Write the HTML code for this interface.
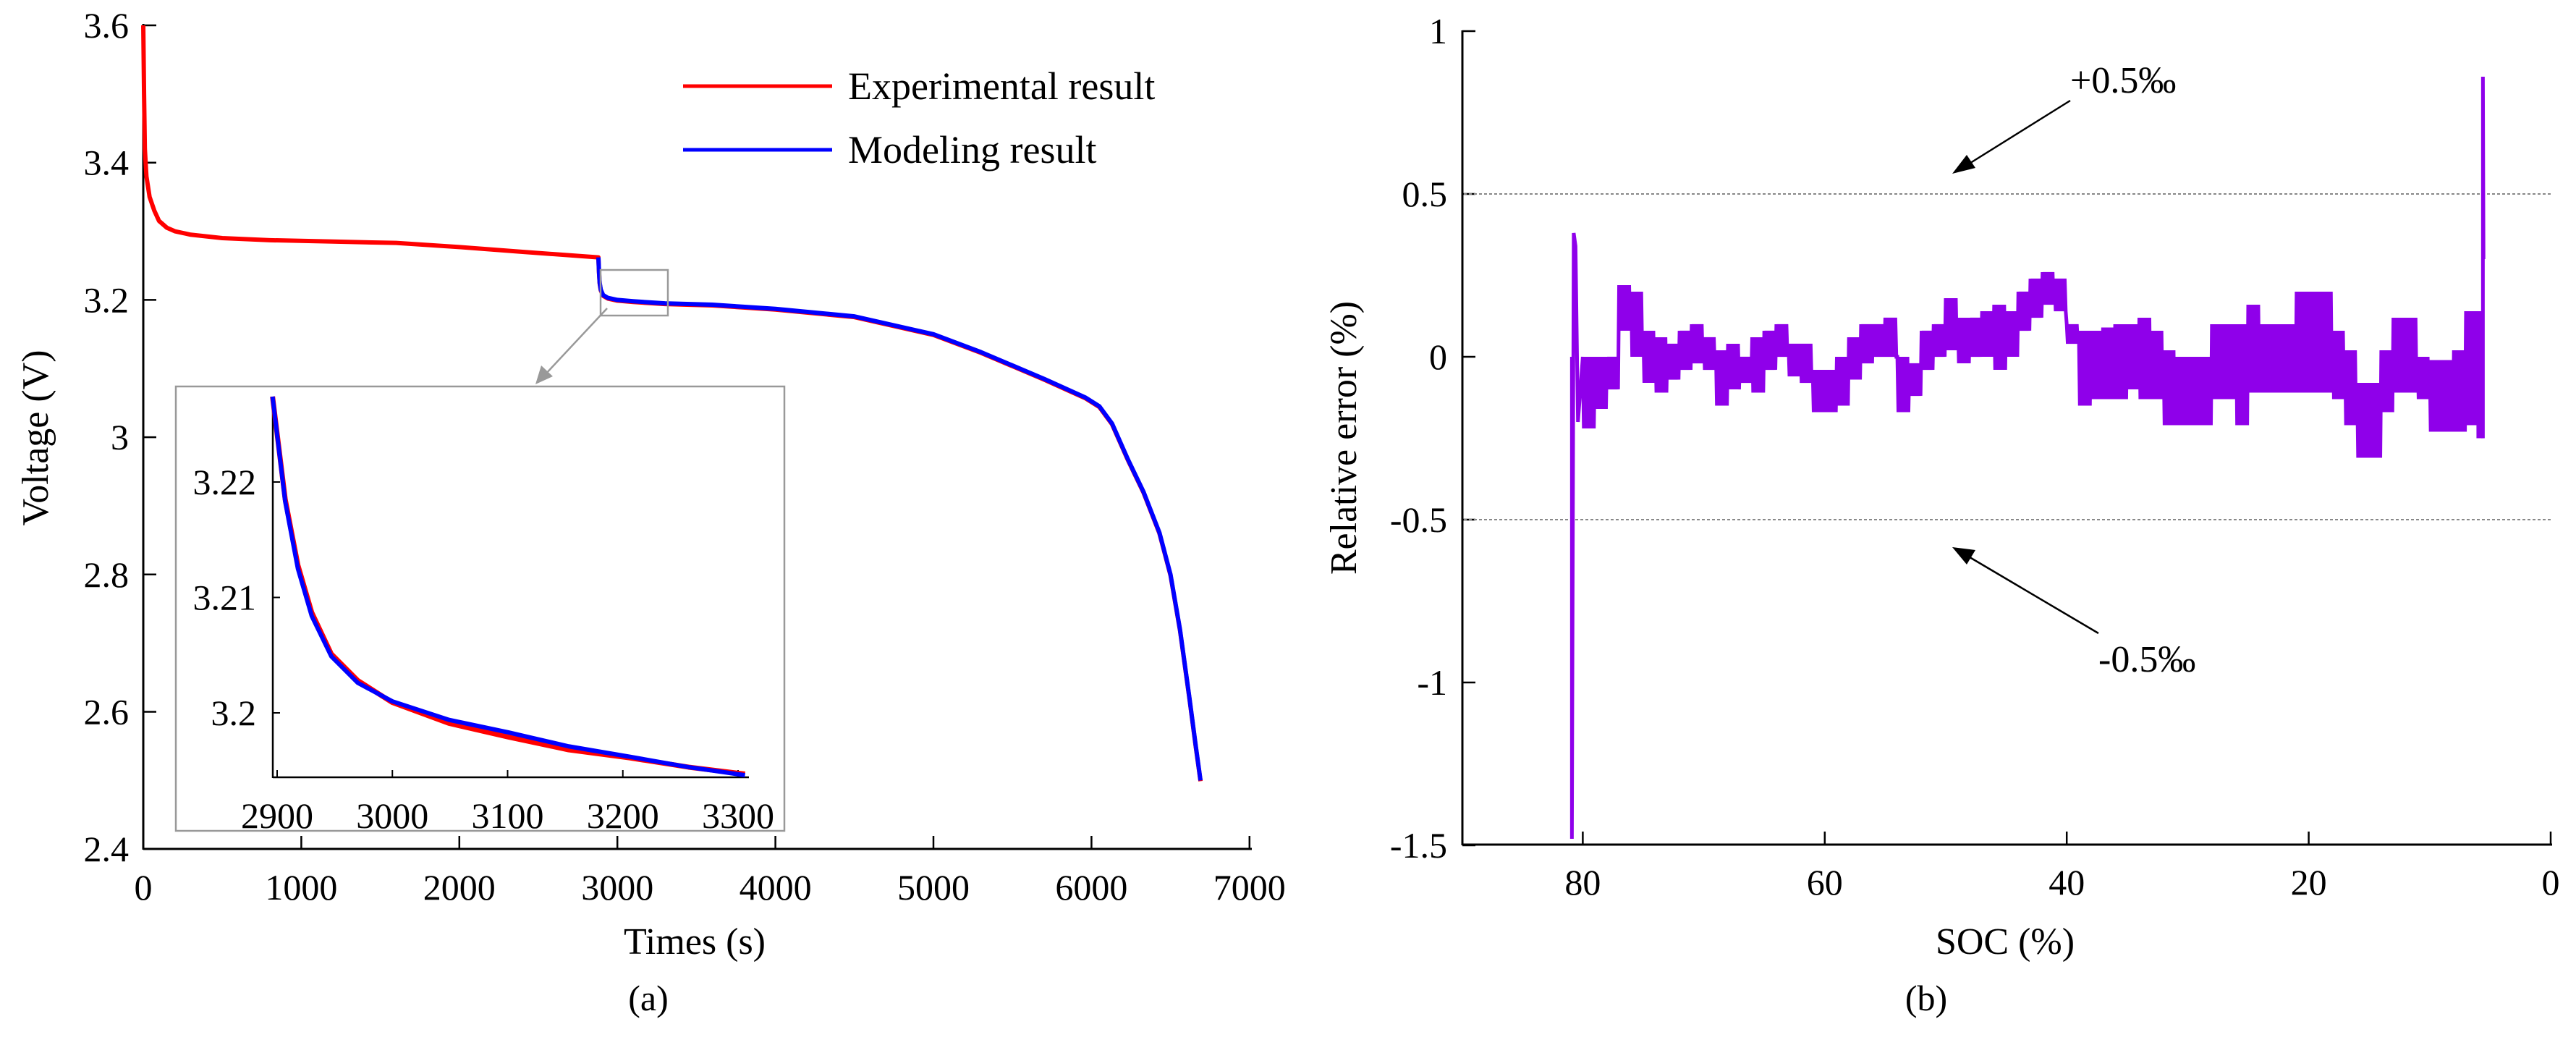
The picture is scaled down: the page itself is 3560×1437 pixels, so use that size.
<!DOCTYPE html>
<html><head><meta charset="utf-8">
<style>
html,body{margin:0;padding:0;background:#fff;}
svg{display:block;}
text{font-family:"Liberation Serif","DejaVu Serif",serif;}
</style></head>
<body>
<svg id="fig" width="3560" height="1437" viewBox="0 0 3560 1437" xmlns="http://www.w3.org/2000/svg">
<rect x="0" y="0" width="3560" height="1437" fill="#fff"/>
<g id="left"></g>
<g id="inset"></g>
<g id="right"></g>
</svg>
<script>
// ---- Chart (a) data ----
const expTimes = [0,5,10,20,40,70,100,150,200,300,500,800,1200,1600,2000,2400,2880];
const expVolts = [3.6,3.5,3.42,3.38,3.35,3.33,3.315,3.305,3.30,3.295,3.29,3.287,3.285,3.283,3.277,3.27,3.262];
const modelTimes = [2880,2884,2888,2895,2910,2940,3000,3100,3300,3600,4000,4500,5000,5300,5700,5960,6050,6130,6230,6330,6430,6500,6560,6620,6660,6690];
const modelVolts = [3.262,3.24,3.225,3.215,3.207,3.203,3.2,3.198,3.195,3.193,3.187,3.176,3.15,3.124,3.085,3.058,3.045,3.02,2.968,2.92,2.861,2.80,2.72,2.62,2.55,2.5];
const xTicksA = [0,1000,2000,3000,4000,5000,6000,7000];
const yTicksA = [2.4,2.6,2.8,3,3.2,3.4,3.6];
const yTickLabelsA = ["2.4","2.6","2.8","3","3.2","3.4","3.6"];
// inset data
const insetTimes = [2896,2907,2918,2930,2947,2970,3000,3049,3101,3153,3206,3257,3306];
const insetModel = [3.2274,3.2183,3.2125,3.2084,3.2049,3.2026,3.2010,3.1994,3.1983,3.1971,3.1962,3.1953,3.1946];
const insetExp = [3.2274,3.2185,3.2128,3.2087,3.2051,3.2028,3.2009,3.1991,3.1979,3.1968,3.1961,3.1953,3.1947];
const insetXTicks = [2900,3000,3100,3200,3300];
const insetYTicks = [3.2,3.21,3.22];
const insetYLabels = ["3.2","3.21","3.22"];
// ---- Chart (b) data ----
const socPts = [80,79,78,77,76,75,74,73,72,71,70,69,68,67,66,65,64,63,62,61,60,59,58,57,56,55,54,53,52,51,50,49,48,47,46,45,44,43,42,41,40,39,38,37,36,35,34,33,32,31,30,29,28,27,26,25,24,23,22,21,20,19,18,17,16,15,14,13,12,11,10,9,8,7,6];
const errHigh = [0.0,0.0,0.0,0.22,0.20,0.08,0.06,0.04,0.08,0.10,0.06,0.02,0.04,0.0,0.06,0.08,0.10,0.04,0.04,-0.04,-0.04,0.0,0.06,0.10,0.10,0.12,0.0,-0.02,0.08,0.10,0.18,0.12,0.12,0.14,0.16,0.14,0.20,0.24,0.26,0.24,0.10,0.08,0.08,0.09,0.10,0.10,0.12,0.08,0.02,0.0,0.0,0.0,0.10,0.10,0.10,0.16,0.10,0.10,0.10,0.20,0.20,0.20,0.08,0.02,-0.08,-0.08,0.02,0.12,0.12,0.0,-0.01,-0.01,0.02,0.14,0.14];
const errLow = [-0.22,-0.16,-0.10,0.08,0.0,-0.08,-0.11,-0.07,-0.04,-0.02,-0.04,-0.15,-0.10,-0.08,-0.11,-0.04,0.0,-0.06,-0.08,-0.17,-0.17,-0.15,-0.07,-0.02,0.0,0.0,-0.17,-0.12,-0.04,0.0,0.02,-0.02,0.0,0.0,-0.04,0.0,0.08,0.12,0.16,0.14,0.04,-0.15,-0.13,-0.13,-0.13,-0.10,-0.13,-0.13,-0.21,-0.21,-0.21,-0.21,-0.13,-0.13,-0.21,-0.11,-0.11,-0.11,-0.11,-0.11,-0.11,-0.11,-0.13,-0.21,-0.31,-0.31,-0.17,-0.11,-0.11,-0.13,-0.23,-0.23,-0.23,-0.21,-0.25];
const startSoc = [80.9,80.9,80.75,80.6,80.4,80.2];
const startErr = [0,-1.48,0.38,0.34,-0.2,-0.1];
const endSoc = [5.8,5.6,5.6,5.55];
const endErr = [-0.1,-0.25,0.86,0.3];
const xTicksB = [80,60,40,20,0];
const yTicksB = [-1.5,-1,-0.5,0,0.5,1];
const yTickLabelsB = ["-1.5","-1","-0.5","0","0.5","1"];

const NS = "http://www.w3.org/2000/svg";
function mk(parent, tag, attrs){ const e=document.createElementNS(NS,tag); for(const k in attrs) e.setAttribute(k,attrs[k]); parent.appendChild(e); return e; }
function txt(parent, s, attrs){ const e=mk(parent,'text',attrs); e.textContent=s; return e; }

// ===== Chart (a) =====
const L = document.getElementById('left');
const ax = t => 198 + t*0.2184;
const ay = v => 35 + (3.6 - v)*948.5;
let e;
e = mk(L,'line',{x1:198,y1:1173,x2:1730,y2:1173,stroke:'#000','stroke-width':3});
 
e = mk(L,'line',{x1:198,y1:33,x2:198,y2:1174,stroke:'#000','stroke-width':3});
 
xTicksA.forEach(t=>{
  e = mk(L,'line',{x1:ax(t),y1:1173,x2:ax(t),y2:1155,stroke:'#000','stroke-width':2.5});
   
  e = txt(L,String(t),{x:ax(t),y:1243,'font-size':50,'text-anchor':'middle'});
   
});
yTicksA.forEach((v,i)=>{
  e = mk(L,'line',{x1:198,y1:ay(v),x2:216,y2:ay(v),stroke:'#000','stroke-width':2.5});
   
  e = txt(L,yTickLabelsA[i],{x:178,y:ay(v)+17,'font-size':50,'text-anchor':'end'});
   
});
e = txt(L,'Times (s)',{x:960,y:1318,'font-size':52,'text-anchor':'middle'});
 
e = txt(L,'Voltage (V)',{x:0,y:0,'font-size':52,'text-anchor':'middle',transform:'translate(66,605) rotate(-90)'});
 
e = txt(L,'(a)',{x:896,y:1396,'font-size':50,'text-anchor':'middle'});
 

let pts = expTimes.map((t,i)=>ax(t)+','+ay(expVolts[i])).concat(modelTimes.map((t,i)=>ax(t)+','+(ay(modelVolts[i])+1)));
e = mk(L,'polyline',{points:pts.join(' '),fill:'none',stroke:'#ff0000','stroke-width':6,'stroke-linejoin':'round'});
 
e = mk(L,'polyline',{points:modelTimes.map((t,i)=>ax(t)+','+ay(modelVolts[i])).join(' '),fill:'none',stroke:'#0000ff','stroke-width':6,'stroke-linejoin':'round'});
 

// legend
e = mk(L,'line',{x1:944,y1:119,x2:1150,y2:119,stroke:'#ff0000','stroke-width':5});
 
e = txt(L,'Experimental result',{x:1172,y:137,'font-size':54});
 
e = mk(L,'line',{x1:944,y1:207,x2:1150,y2:207,stroke:'#0000ff','stroke-width':5});
 
e = txt(L,'Modeling result',{x:1172,y:225,'font-size':54});
 

// zoom rectangle & arrow
e = mk(L,'rect',{x:830,y:373,width:93,height:63,fill:'none',stroke:'#999','stroke-width':2.5});
 
e = mk(L,'line',{x1:839,y1:426,x2:752,y2:519,stroke:'#999','stroke-width':2.5});
 
e = mk(L,'polygon',{points:'740,531 748,505 764,520',fill:'#999'});
 

// ===== Inset =====
const I = document.getElementById('inset');
const ix = t => 383 + (t-2900)*1.5925;
const iy = v => 985 - (v-3.2)*15950;
e = mk(I,'rect',{x:243,y:534,width:841,height:614,fill:'#fff',stroke:'#999','stroke-width':2.5});
 
e = mk(I,'line',{x1:377,y1:1074,x2:1035,y2:1074,stroke:'#000','stroke-width':2.5});
 
e = mk(I,'line',{x1:377,y1:553,x2:377,y2:1075,stroke:'#000','stroke-width':2.5});
 
insetXTicks.forEach(t=>{
  e = mk(I,'line',{x1:ix(t),y1:1074,x2:ix(t),y2:1064,stroke:'#000','stroke-width':2});
   
  e = txt(I,String(t),{x:ix(t),y:1144,'font-size':50,'text-anchor':'middle'});
   
});
insetYTicks.forEach((v,i)=>{
  e = mk(I,'line',{x1:377,y1:iy(v),x2:387,y2:iy(v),stroke:'#000','stroke-width':2});
   
  e = txt(I,insetYLabels[i],{x:354,y:iy(v)+17,'font-size':50,'text-anchor':'end'});
   
});
e = mk(I,'polyline',{points:insetTimes.map((t,i)=>ix(t)+','+iy(insetExp[i])).join(' '),fill:'none',stroke:'#ff0000','stroke-width':7,'stroke-linejoin':'round'});
 
e = mk(I,'polyline',{points:insetTimes.map((t,i)=>ix(t)+','+iy(insetModel[i])).join(' '),fill:'none',stroke:'#0000ff','stroke-width':6,'stroke-linejoin':'round'});
 

// ===== Chart (b) =====
const R = document.getElementById('right');
const bx = s => 3525 - s*16.72;
const by = v => 493 - v*450;
e = mk(R,'line',{x1:2021,y1:1167,x2:3527,y2:1167,stroke:'#000','stroke-width':3});
 
e = mk(R,'line',{x1:2021,y1:42,x2:2021,y2:1168,stroke:'#000','stroke-width':3});
 
xTicksB.forEach(s=>{
  e = mk(R,'line',{x1:bx(s),y1:1167,x2:bx(s),y2:1149,stroke:'#000','stroke-width':2.5});
   
  e = txt(R,String(s),{x:bx(s),y:1236,'font-size':50,'text-anchor':'middle'});
   
});
yTicksB.forEach((v,i)=>{
  e = mk(R,'line',{x1:2021,y1:by(v),x2:2039,y2:by(v),stroke:'#000','stroke-width':2.5});
   
  e = txt(R,yTickLabelsB[i],{x:2000,y:by(v)+17,'font-size':50,'text-anchor':'end'});
   
});
[0.5,-0.5].forEach(v=>{
  e = mk(R,'line',{x1:2023,y1:by(v),x2:3525,y2:by(v),stroke:'#888','stroke-width':2,'stroke-dasharray':'4,3'});
   
});
// series zigzag
let zp = startSoc.map((s,i)=>bx(s)+','+by(startErr[i]));
for(let i=0;i<socPts.length;i++){
  const s0 = socPts[i], s1 = (i+1<socPts.length)? socPts[i+1] : 5.8;
  for(let k=0;k<6;k++){
    const s = s0 + (s1-s0)*k/6;
    zp.push(bx(s)+','+by(errHigh[i]));
    zp.push(bx(s+(s1-s0)/12)+','+by(errLow[i]));
  }
}
endSoc.forEach((s,i)=>zp.push(bx(s)+','+by(endErr[i])));
e = mk(R,'polyline',{points:zp.join(' '),fill:'none',stroke:'#8f00ea','stroke-width':5,'stroke-linejoin':'miter'});
 

// annotations
e = mk(R,'line',{x1:2861,y1:139,x2:2712,y2:232,stroke:'#000','stroke-width':2.5});
 
e = mk(R,'polygon',{points:'2698,240 2718,214 2730,232',fill:'#000'});
 
e = txt(R,'+0.5‰',{x:2861,y:128,'font-size':52});
 
e = mk(R,'line',{x1:2900,y1:875,x2:2712,y2:764,stroke:'#000','stroke-width':2.5});
 
e = mk(R,'polygon',{points:'2698,756 2730,760 2718,780',fill:'#000'});
 
e = txt(R,'-0.5‰',{x:2900,y:928,'font-size':52});
 

e = txt(R,'SOC (%)',{x:2771,y:1318,'font-size':52,'text-anchor':'middle'});
 
e = txt(R,'Relative error (%)',{x:0,y:0,'font-size':52,'text-anchor':'middle',transform:'translate(1874,605) rotate(-90)'});
 
e = txt(R,'(b)',{x:2662,y:1396,'font-size':50,'text-anchor':'middle'});
 
</script>
</body></html>
